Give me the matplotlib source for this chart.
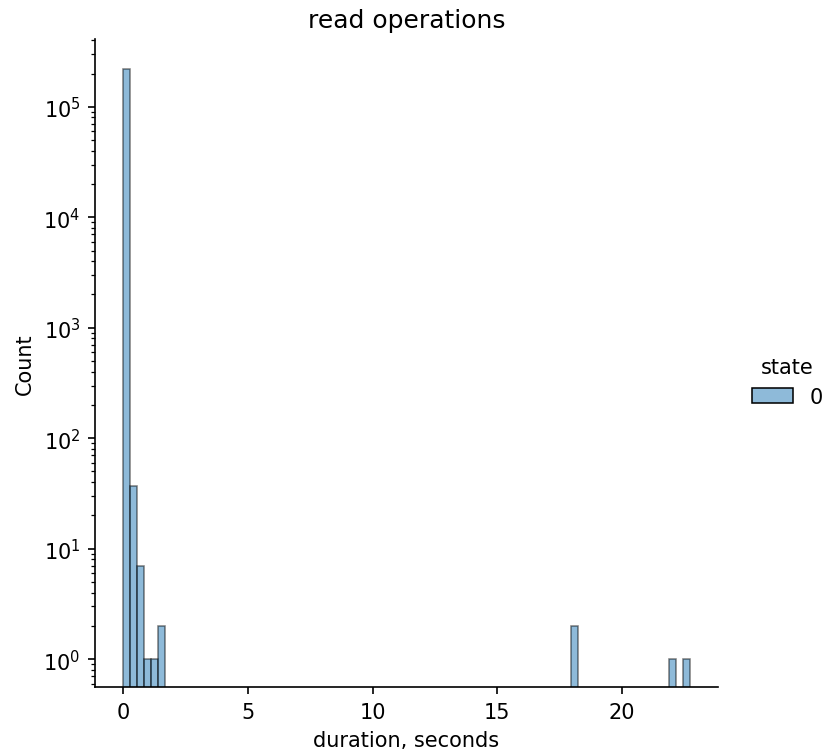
import numpy as np
import matplotlib
matplotlib.use("Agg")
import matplotlib.pyplot as plt
from matplotlib.patches import Patch

# histogram of read durations, bins of ~0.28 s
bin_width = 0.2805
n_bins = 81
bin_index = [0, 1, 2, 3, 4, 5, 64, 78, 80]
bin_count = [222000, 37, 7, 1, 1, 2, 2, 1, 1]
state_labels = ["0"]

edges = np.arange(n_bins + 1) * bin_width
centers = (np.array(bin_index) + 0.5) * bin_width

fig = plt.figure(figsize=(5.52, 5.033), dpi=150)
ax = fig.add_axes([0.1147, 0.0887, 0.867 - 0.1147, 0.947 - 0.0887])

face = (0.122, 0.467, 0.706, 0.5)
edge = (0, 0, 0, 0.5)
ax.hist(centers, bins=edges, weights=bin_count, facecolor=face,
        edgecolor=edge, linewidth=0.75)
ax.set_yscale("log")
ax.set_ylim(0.56, 4.1e5)
ax.set_xlim(-1.13, 23.85)
ax.set_xticks([0, 5, 10, 15, 20])
ax.spines["top"].set_visible(False)
ax.spines["right"].set_visible(False)
ax.set_xlabel("duration, seconds")
ax.set_ylabel("Count")
ax.set_title("read operations")

handle = Patch(facecolor=face, edgecolor="black", linewidth=0.75)
fig.legend([handle], state_labels, title="state", loc="center left",
           bbox_to_anchor=(0.885, 0.493), frameon=False)

fig.savefig("out.png", dpi=150)
